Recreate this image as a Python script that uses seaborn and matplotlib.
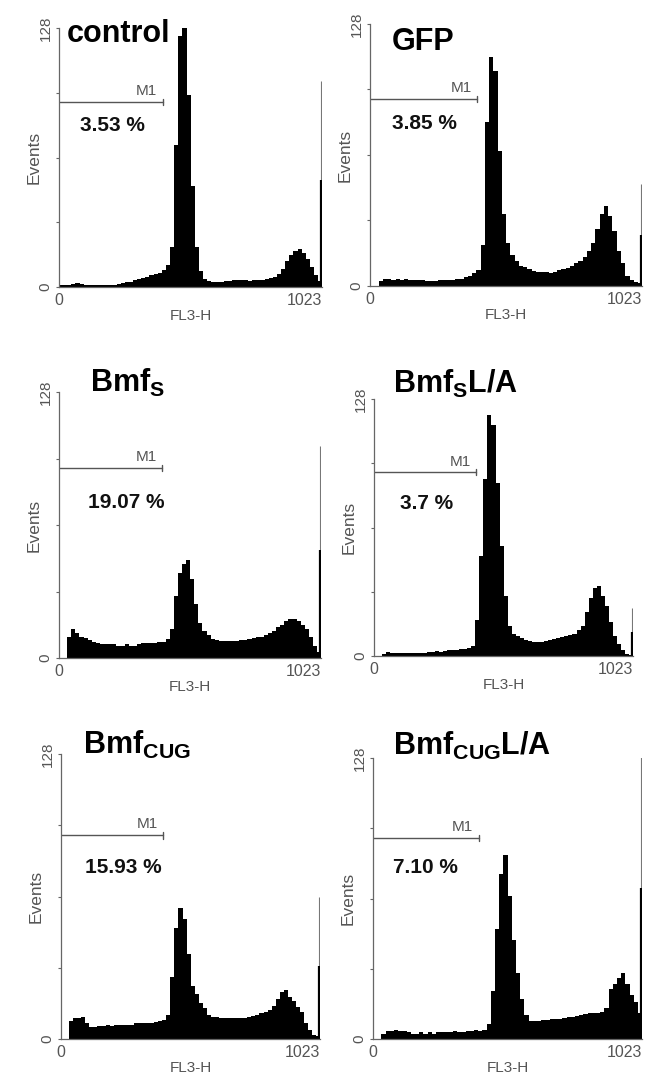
import numpy as np
import pandas as pd
import matplotlib
matplotlib.use("Agg")
import matplotlib.pyplot as plt
import seaborn as sns

# FL3-H histograms, 64 bins of 16 channels each (0..1023), counts
control_counts = [1, 1, 1, 1.5, 2, 1.5, 1, 1, 1, 1, 1, 1, 1, 1, 1.5, 2,
                  2.5, 2.5, 3.5, 4, 4.5, 5, 6, 6.5, 7, 8.5, 11, 20, 70, 124, 130, 95,
                  50, 20, 8, 4, 3, 2.5, 2.5, 2.5, 3, 3, 3.5, 3.5, 3.5, 3.5, 3, 3.5,
                  3.5, 3.5, 4, 4.5, 5, 6.5, 9, 13, 16, 18, 19, 17, 14, 10, 6, 3]
gfp_counts = [0, 0, 2.5, 3.5, 3.5, 3, 3.5, 3, 3.5, 3, 3, 2.8, 2.8, 2.5, 2.5, 2.5,
              3, 3, 3, 3, 3.5, 3.5, 4.5, 5, 6.5, 8, 20, 80, 112, 105, 66, 35,
              21, 15, 12, 10, 9.5, 8.5, 7.5, 7, 7, 7, 6.5, 7, 8, 8.5, 9, 10,
              11, 12, 14, 17, 21, 28, 35, 39, 34, 27, 17, 11, 5, 3, 2, 1.5]
bmfs_counts = [0, 0, 10, 14, 12, 10, 9.5, 8.5, 7.5, 7, 6.5, 6.5, 6.5, 6.5, 6, 6,
               6.5, 6, 6, 6.5, 7, 7, 7, 7, 7.5, 7.5, 9, 14, 30, 41, 45, 47,
               38, 26, 17, 13, 11, 9, 8.5, 8, 8, 8, 8, 8, 8.5, 8.5, 9, 9.5,
               10, 10, 11, 12, 13, 15, 16, 18, 19, 19, 18, 16, 14, 10, 6, 3]
bmfs_la_counts = [0, 0, 1, 2, 1.5, 1.5, 1.5, 1.5, 1.5, 1.5, 1.5, 1.5, 1.5, 2, 2, 2.5,
                  2, 2.5, 3, 3, 3, 3.5, 3.5, 4, 5, 18, 50, 88, 120, 115, 86, 55,
                  30, 15, 11, 10, 9, 8, 7.5, 7, 7, 7, 7.5, 8, 8.5, 9, 9.5, 10,
                  10.5, 11, 13, 15, 22, 29, 34, 35, 30, 25, 17, 10, 6, 3, 1, 0.5]
bmfcug_counts = [0, 0, 8, 9.5, 9.5, 10, 7, 5.5, 5.5, 6, 6, 6.5, 6, 6.5, 6.5, 6.5,
                 6.5, 6.5, 7, 7, 7, 7, 7, 7.5, 8, 8.5, 11, 28, 50, 59, 54, 38,
                 24, 20, 16, 14, 11, 10, 10, 9.5, 9.5, 9.5, 9.5, 9.5, 9.5, 9.5, 10, 10.5,
                 11, 11.5, 12, 13, 15, 18, 21, 22, 19, 17, 14.5, 12, 7, 4, 2, 1.5]
bmfcug_la_counts = [0, 0, 2.5, 3.5, 3.5, 4, 3.5, 3.5, 3, 2.5, 2.5, 3, 2.5, 3, 2.5, 3,
                    3, 3, 3, 3.5, 3, 3, 3.5, 3.5, 4, 3.5, 4, 7, 22, 50, 75, 84,
                    65, 45, 30, 18, 11, 8, 8, 8, 8.5, 8.5, 9, 9, 9, 9.5, 10, 10,
                    10.5, 11, 11.5, 12, 12, 12, 12.5, 14, 23, 25, 28, 30, 25, 20, 17, 12]

# counts piled up in the last channel (1023): full height / dense part
overflow_full = [102, 50, 102, 24, 64, 130]
overflow_dense = [53, 25, 52, 12, 33, 69]

titles = ["control", "GFP", r"$\mathbf{Bmf_{S}}$", r"$\mathbf{Bmf_{S}L/A}$",
          r"$\mathbf{Bmf_{CUG}}$", r"$\mathbf{Bmf_{CUG}L/A}$"]
percents = ["3.53 %", "3.85 %", "19.07 %", "3.7 %", "15.93 %", "7.10 %"]
m1_end = 404
m1_level = 91.5

all_counts = [control_counts, gfp_counts, bmfs_counts, bmfs_la_counts,
              bmfcug_counts, bmfcug_la_counts]

# layout (pixels: left, right, top, bottom) and text anchors
boxes = [(59, 322, 28, 287), (370, 642, 24, 286),
         (59, 321, 392, 658), (374, 633, 399, 656),
         (61, 320, 754, 1039), (373, 642, 758, 1039)]
title_pos = [(0.03, 0.946), (0.08, 0.90), (0.118, 1.0),
             (0.073, 1.023), (0.085, 1.0), (0.074, 1.01)]
pct_pos = [(82, 79.6), (83, 79.6), (113, 74.6), (103, 76), (95, 77), (76, 78)]

sns.set_style("white")
plt.rcParams["font.family"] = ["Liberation Sans", "DejaVu Sans"]
plt.rcParams["mathtext.fontset"] = "custom"
plt.rcParams["mathtext.rm"] = "Liberation Sans"
plt.rcParams["mathtext.bf"] = "Liberation Sans:bold"

W, H = 654, 1083
fig = plt.figure(figsize=(W / 100, H / 100), dpi=100)
gray = "#555555"

for i, counts in enumerate(all_counts):
    l, r, t, b = boxes[i]
    ax = fig.add_axes([l / W, 1 - b / H, (r - l) / W, (b - t) / H])
    df = pd.DataFrame({"channel": np.arange(len(counts)) * 16 + 8, "count": counts})
    sns.histplot(data=df, x="channel", weights="count", binwidth=16, binrange=(0, 1024),
                 ax=ax, element="bars", fill=True, color="black", alpha=1, linewidth=0)
    ax.vlines(1021, 0, overflow_full[i], color="#777777", lw=0.8)
    ax.vlines(1021, 0, overflow_dense[i], color="black", lw=1.6)

    # M1 gate marker
    ax.plot([0, m1_end], [m1_level, m1_level], color=gray, lw=1)
    ax.plot([m1_end, m1_end], [m1_level - 1.5, m1_level + 1.5], color=gray, lw=1)
    ax.text(m1_end - 22, m1_level + 1.8, "M1", ha="right", va="bottom",
            fontsize=11, color=gray)
    ax.text(pct_pos[i][0], pct_pos[i][1], percents[i], ha="left", va="center",
            fontsize=15, fontweight="bold", color="#111111")
    ax.text(title_pos[i][0], title_pos[i][1], titles[i], transform=ax.transAxes,
            ha="left", va="baseline", fontsize=22, fontweight="bold", color="black")

    ax.set_xlim(0, 1023)
    ax.set_ylim(0, 128)
    for side in ["top", "right"]:
        ax.spines[side].set_visible(False)
    for side in ["left", "bottom"]:
        ax.spines[side].set_color("#666666")
        ax.spines[side].set_linewidth(0.9)

    ax.set_yticks([0, 32, 64, 96, 128])
    ax.set_yticklabels(["0", "", "", "", "128"], rotation=90, va="center",
                       fontsize=11, color=gray)
    ax.tick_params(axis="y", direction="out", length=2.5, width=0.8,
                   color="#666666", pad=2, left=True)
    ax.set_xticks([0, 1023])
    ax.set_xticklabels(["0", "1023"], fontsize=11.5, color=gray)
    ax.get_xticklabels()[1].set_horizontalalignment("right")
    ax.tick_params(axis="x", length=0, pad=4)
    ax.set_xlabel("FL3-H", fontsize=11, color=gray, labelpad=1)
    ax.set_ylabel("Events", fontsize=12.5, color=gray, labelpad=-2)

fig.savefig("out.png", dpi=100)
